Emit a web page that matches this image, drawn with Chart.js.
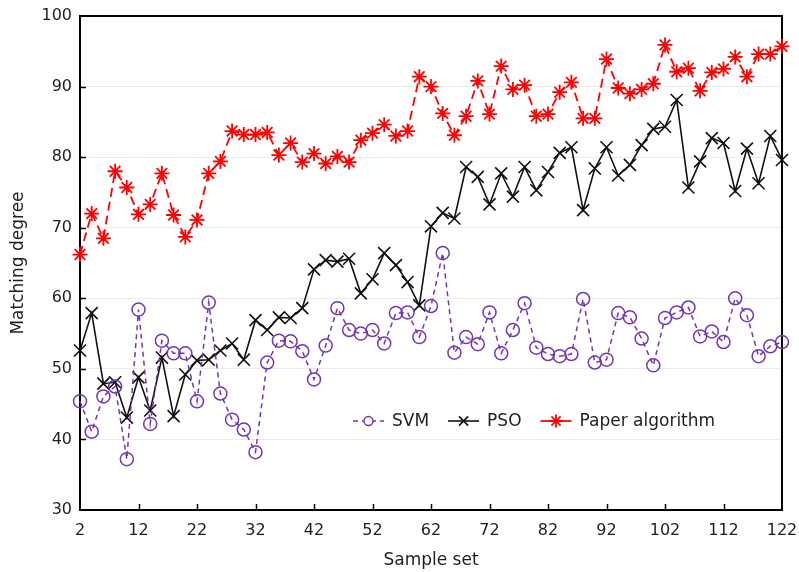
<!DOCTYPE html>
<html lang="en">
<head>
<meta charset="UTF-8">
<title>Matching degree</title>
<script src="https://cdn.jsdelivr.net/npm/chart.js"></script>
<style>
    html, body { margin: 0; padding: 0; background: #fff; }
    #wrap { width: 799px; height: 572px; position: relative; }
</style>
</head>
<body>
<div id="wrap"><canvas id="matchChart"></canvas></div>
<script>
    // sample set numbers (x)
    const samples = [2,4,6,8,10,12,14,16,18,20,22,24,26,28,30,32,34,36,38,40,
        42,44,46,48,50,52,54,56,58,60,62,64,66,68,70,72,74,76,78,80,
        82,84,86,88,90,92,94,96,98,100,102,104,106,108,110,112,114,116,118,120,122];

    const svm = [45.4,41.1,46.1,47.5,37.2,58.4,42.2,54.0,52.2,52.2,
        45.4,59.4,46.5,42.8,41.4,38.2,50.9,54.0,53.9,52.5,
        48.5,53.3,58.6,55.5,55.0,55.5,53.6,57.9,58.0,54.5,
        58.9,66.4,52.3,54.5,53.5,58.0,52.2,55.5,59.3,53.0,
        52.1,51.8,52.1,59.9,50.9,51.3,57.9,57.3,54.3,50.5,
        57.2,58.0,58.7,54.6,55.3,53.8,60.0,57.6,51.8,53.2,53.8];

    const pso = [52.6,57.9,47.9,48.1,43.1,48.8,44.1,51.6,43.3,49.2,
        51.2,51.3,52.6,53.6,51.3,56.9,55.5,57.3,57.2,58.6,
        64.1,65.4,65.2,65.6,60.7,62.7,66.4,64.7,62.3,59.0,
        70.2,72.1,71.3,78.6,77.2,73.3,77.7,74.4,78.6,75.3,
        77.9,80.6,81.4,72.5,78.4,81.4,77.4,78.9,81.7,84.0,
        84.3,88.1,75.7,79.4,82.7,82.0,75.2,81.2,76.3,83.0,79.6];

    const paper = [66.2,72.0,68.5,78.0,75.7,71.9,73.3,77.7,71.8,68.7,
        71.1,77.7,79.4,83.7,83.2,83.2,83.5,80.3,82.0,79.3,
        80.5,79.1,80.1,79.3,82.4,83.4,84.6,83.0,83.7,91.4,
        90.0,86.2,83.1,85.8,90.8,86.1,92.9,89.6,90.2,85.8,
        86.1,89.2,90.6,85.5,85.5,93.9,89.8,89.0,89.6,90.4,
        95.9,92.1,92.6,89.4,92.0,92.5,94.2,91.4,94.6,94.6,95.7];

    const seriesNames = ['SVM', 'PSO', 'Paper algorithm'];

    const FONT = "'DejaVu Sans', Verdana, sans-serif";
    const TXT = '#1e1e1e';
    const PURPLE = '#7436b0';
    const RED = '#ff0000';
    const BLACK = '#111111';

    function pts(vals) {
        return vals.map((v, i) => ({x: samples[i], y: v}));
    }

    const styles = [
        {color: PURPLE, point: 'circle', radius: 6.5, dash: [5, 4], width: 1.5, lRadius: 4.5, lDash: [5, 4]},
        {color: BLACK, point: 'crossRot', radius: 8.5, dash: [], width: 1.6, lRadius: 6.5, lDash: []},
        {color: RED, point: 'star', radius: 7.5, dash: [9, 5], width: 1.8, lRadius: 6.5, lDash: []}
    ];
    const allVals = [svm, pso, paper];

    // box, inward ticks
    const frame = {
        id: 'frame',
        beforeDatasetsDraw(chart) {
            const c = chart.ctx, a = chart.chartArea;
            const xs = chart.scales.x, ys = chart.scales.y;
            c.save();
            c.strokeStyle = '#000';
            c.lineWidth = 1.5;
            xs.ticks.forEach(t => {
                if (t.value <= xs.min || t.value >= xs.max) return;
                const px = Math.round(xs.getPixelForValue(t.value)) + 0.5;
                c.beginPath(); c.moveTo(px, a.bottom); c.lineTo(px, a.bottom - 6); c.stroke();
            });
            ys.ticks.forEach(t => {
                if (t.value <= ys.min || t.value >= ys.max) return;
                const py = Math.round(ys.getPixelForValue(t.value)) + 0.5;
                c.beginPath(); c.moveTo(a.left, py); c.lineTo(a.left + 6, py); c.stroke();
            });
            c.lineWidth = 2;
            c.strokeRect(a.left, a.top, a.right - a.left, a.bottom - a.top);
            c.restore();
        }
    };

    // legend sits inside the plot
    const insideLegend = {
        id: 'insideLegend',
        afterDraw(chart) {
            const c = chart.ctx, a = chart.chartArea;
            let x = a.left + 273;
            const y = a.bottom - 89;
            c.save();
            c.font = '17px ' + FONT;
            c.textBaseline = 'middle';
            seriesNames.forEach((name, i) => {
                const s = styles[i];
                c.strokeStyle = s.color;
                c.lineWidth = s.width;
                c.setLineDash(s.lDash);
                c.beginPath(); c.moveTo(x, y); c.lineTo(x + 31, y); c.stroke();
                c.setLineDash([]);
                if (s.point === 'circle') {
                    c.fillStyle = '#fff';
                    c.beginPath(); c.arc(x + 15.5, y, s.lRadius, 0, Math.PI * 2); c.fill();
                }
                Chart.helpers.drawPoint(c, {pointStyle: s.point, radius: s.lRadius, borderWidth: s.width, rotation: 0}, x + 15.5, y);
                c.fillStyle = TXT;
                c.fillText(name, x + 39, y + 1);
                x += 39 + c.measureText(name).width + 19;
            });
            c.restore();
        }
    };

    const datasets = seriesNames.map((name, i) => ({
        label: name,
        data: pts(allVals[i]),
        borderColor: styles[i].color,
        backgroundColor: 'rgba(0,0,0,0)',
        borderWidth: styles[i].width,
        borderDash: styles[i].dash,
        pointStyle: styles[i].point,
        pointRadius: styles[i].radius,
        pointBorderColor: styles[i].color,
        pointBackgroundColor: 'rgba(0,0,0,0)',
        pointBorderWidth: styles[i].width,
        tension: 0,
        clip: false
    }));

    new Chart(document.getElementById('matchChart'), {
        type: 'line',
        data: {datasets: datasets},
        plugins: [frame, insideLegend],
        options: {
            responsive: true,
            maintainAspectRatio: false,
            animation: false,
            devicePixelRatio: 1,
            layout: {padding: {left: 0, right: 17, top: 16, bottom: 0}},
            plugins: {legend: {display: false}, tooltip: {enabled: false}},
            scales: {
                x: {
                    type: 'linear',
                    min: 2, max: 122,
                    ticks: {stepSize: 10, padding: 11, color: TXT, font: {family: FONT, size: 16}, maxRotation: 0},
                    grid: {display: false, drawTicks: false},
                    border: {display: false},
                    title: {display: true, text: 'Sample set', color: TXT, font: {family: FONT, size: 17}, padding: {top: 0, bottom: 1}},
                    afterFit(s) { s.height = 62; s.paddingLeft = 0; s.paddingRight = 0; }
                },
                y: {
                    type: 'linear',
                    min: 30, max: 100,
                    ticks: {stepSize: 10, padding: 8, color: TXT, font: {family: FONT, size: 16}},
                    grid: {
                        drawTicks: false,
                        color: ctx => (ctx.tick && ctx.tick.value > 30 && ctx.tick.value < 100) ? '#ebebeb' : 'rgba(0,0,0,0)'
                    },
                    border: {display: false},
                    title: {display: true, text: 'Matching degree', color: TXT, font: {family: FONT, size: 17}, padding: {top: 8, bottom: 0}},
                    afterFit(s) { s.width = 80; s.paddingTop = 0; s.paddingBottom = 0; }
                }
            }
        }
    });
</script>
</body>
</html>
